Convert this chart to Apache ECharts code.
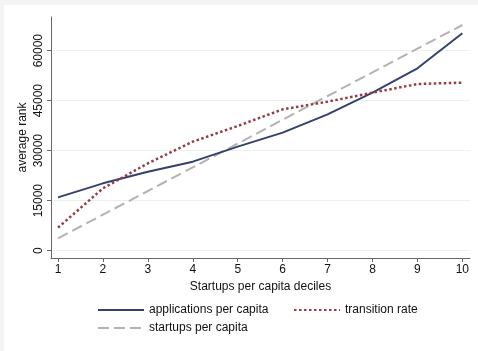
<!DOCTYPE html>
<html>
<head>
<meta charset="utf-8">
<script src="https://cdn.jsdelivr.net/npm/echarts@6/dist/echarts.min.js"></script>
<style>
html,body{margin:0;padding:0;background:#f4f4f4;width:478px;height:351px;overflow:hidden;}
#c{position:absolute;left:4px;top:5px;width:474px;height:346px;background:#ffffff;}
</style>
</head>
<body>
<div id="c"></div>
<script>
const deciles = [1, 2, 3, 4, 5, 6, 7, 8, 9, 10];
const applicationsPerCapita = [16000, 20200, 23700, 26700, 31200, 35400, 40900, 47400, 54700, 65200];
const transitionRate = [6900, 18700, 26200, 32700, 37400, 42400, 44700, 47400, 50000, 50400];
const startupsPerCapita = [3700, 10800, 17900, 25000, 32100, 39300, 46400, 53500, 60600, 67700];
const yTicks = [0, 15000, 30000, 45000, 60000];
const xTicks = [1, 2, 3, 4, 5, 6, 7, 8, 9, 10];

const names = ['applications per capita', 'transition rate', 'startups per capita'];

function pairs(vals) { return deciles.map((d, i) => [d, vals[i]]); }

const chart = echarts.init(document.getElementById('c'), null, {renderer: 'canvas'});
const font = 'Liberation Sans, Arial, Helvetica, sans-serif';
const legendBase = {
  itemWidth: 46, itemHeight: 14, itemGap: 5,
  itemStyle: {opacity: 0},
  textStyle: {fontFamily: font, fontSize: 12, color: '#111'},
  selectedMode: false, padding: 0
};
chart.setOption({
  animation: false,
  backgroundColor: 'transparent',
  grid: {left: 47, right: 8, top: 12, bottom: 93},
  xAxis: {
    type: 'value', min: 0.844, max: 10.17,
    name: 'Startups per capita deciles', nameLocation: 'middle', nameGap: 22,
    nameTextStyle: {fontFamily: font, fontSize: 12, color: '#111'},
    axisLine: {show: true, onZero: false, lineStyle: {color: '#666', width: 1}},
    axisTick: {show: true, length: 4, customValues: xTicks, lineStyle: {color: '#666'}},
    axisLabel: {customValues: xTicks, margin: 6, fontFamily: font, fontSize: 12, color: '#111',
      formatter: v => String(v)},
    splitLine: {show: false}
  },
  yAxis: {
    type: 'value', min: -2200, max: 70100,
    name: 'average rank', nameLocation: 'middle', nameGap: 22, nameRotate: 90,
    nameMoveOverlap: false,
    nameTextStyle: {fontFamily: font, fontSize: 12, color: '#111'},
    axisLine: {show: true, onZero: false, lineStyle: {color: '#666', width: 1}},
    axisTick: {show: true, length: 4, customValues: yTicks, lineStyle: {color: '#666'}},
    axisLabel: {customValues: yTicks, rotate: 90, margin: 6, fontFamily: font, fontSize: 12, color: '#111',
      formatter: v => String(v)},
    splitLine: {show: true, customValues: yTicks, lineStyle: {color: '#e9f1f2', width: 1}}
  },
  legend: [
    Object.assign({}, legendBase, {data: [names[0]], left: 93, top: 299}),
    Object.assign({}, legendBase, {data: [names[1]], left: 289, top: 299}),
    Object.assign({}, legendBase, {data: [names[2]], left: 93, top: 317})
  ],
  series: [
    {name: names[0], type: 'line', data: pairs(applicationsPerCapita), symbol: 'none',
     lineStyle: {color: '#34416e', width: 2}, itemStyle: {color: '#34416e'}, z: 3},
    {name: names[1], type: 'line', data: pairs(transitionRate), symbol: 'none',
     lineStyle: {color: '#943e44', width: 2.5, type: [2.5, 2.5]}, itemStyle: {color: '#943e44'}, z: 4},
    {name: names[2], type: 'line', data: pairs(startupsPerCapita), symbol: 'none',
     lineStyle: {color: '#b3b3b3', width: 2, type: [11, 5]}, itemStyle: {color: '#b3b3b3'}, z: 2}
  ]
});
</script>
</body>
</html>
